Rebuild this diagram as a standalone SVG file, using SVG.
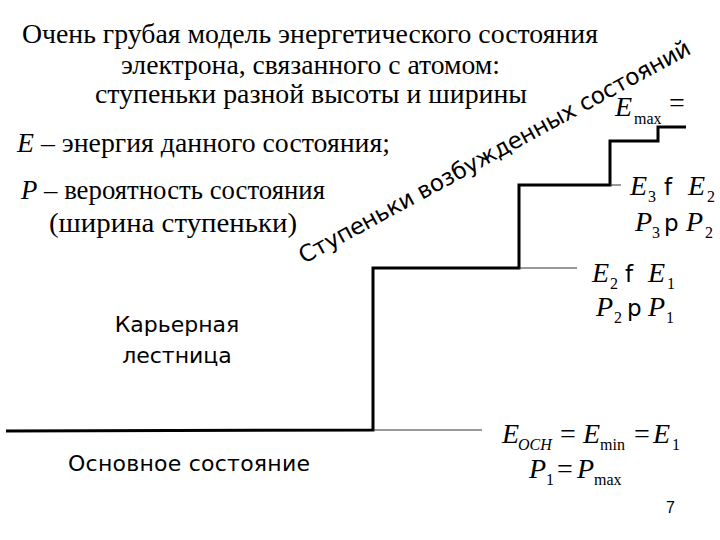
<svg xmlns="http://www.w3.org/2000/svg" width="720" height="540" viewBox="0 0 720 540">
<style>
.serif{font-family:"Liberation Serif","Times New Roman",serif;fill:#000}
.sans{font-family:"DejaVu Sans","Liberation Sans",sans-serif;fill:#000}
.it{font-style:italic}
.thick{stroke:#000;stroke-width:3;fill:none;stroke-linejoin:miter}
.thin{stroke:#333;stroke-width:1;fill:none}
.t27{font-size:27px}
.m{font-size:28px}
.s{font-size:16px}
.op{font-size:23px}
</style>
<rect width="720" height="540" fill="#fff"/>
<g id="title" class="serif t27">
<text x="22" y="43" textLength="576" lengthAdjust="spacingAndGlyphs">Очень грубая модель энергетического состояния</text>
<text x="121" y="74" textLength="379" lengthAdjust="spacingAndGlyphs">электрона, связанного с атомом:</text>
<text x="95" y="103" textLength="432" lengthAdjust="spacingAndGlyphs">ступеньки разной высоты и ширины</text>
</g>
<g id="legend" class="serif t27">
<text x="17" y="152" textLength="373" lengthAdjust="spacingAndGlyphs"><tspan class="it">E</tspan> – энергия данного состояния;</text>
<text x="21" y="199" textLength="304" lengthAdjust="spacingAndGlyphs"><tspan class="it">P</tspan> – вероятность состояния</text>
<text x="49" y="232" textLength="248" lengthAdjust="spacingAndGlyphs">(ширина ступеньки)</text>
</g>
<g id="connectors">
<polyline class="thick" points="6,431 373,430 373,268 519,268 519,185 610,185 610,141 658,141 658,127 686,127"/>
<line class="thin" x1="373" y1="430" x2="482" y2="430"/>
<line class="thin" x1="519" y1="268" x2="577" y2="268"/>
<line class="thin" x1="610" y1="185" x2="621" y2="185"/>
</g>
<g id="career" class="sans" font-size="22" text-anchor="middle">
<text x="177" y="332">Карьерная</text>
<text x="177" y="363">лестница</text>
</g>
<g id="ground" class="sans" font-size="22">
<text x="68" y="471" textLength="242">Основное состояние</text>
</g>
<g id="excited" class="sans">
<text x="304" y="264" font-size="23" transform="rotate(-28.5 304 264)" textLength="442">Ступеньки возбужденных состояний</text>
</g>
<g id="emax" class="serif">
<text x="615" y="116" class="m it">E</text>
<text x="634" y="124" class="s">max</text>
<text x="669" y="112" class="m">=</text>
</g>
<g id="level3">
<text x="630" y="195" class="serif m it">E</text>
<text x="648" y="202" class="serif s">3</text>
<text x="664" y="195" class="sans op">f</text>
<text x="688" y="195" class="serif m it">E</text>
<text x="707" y="202" class="serif s">2</text>
<text x="635" y="231" class="serif m it">P</text>
<text x="652" y="238" class="serif s">3</text>
<text x="664" y="231" class="sans op">p</text>
<text x="686" y="231" class="serif m it">P</text>
<text x="705" y="238" class="serif s">2</text>
</g>
<g id="level2">
<text x="592" y="282" class="serif m it">E</text>
<text x="610" y="289" class="serif s">2</text>
<text x="625" y="282" class="sans op">f</text>
<text x="648" y="282" class="serif m it">E</text>
<text x="667" y="289" class="serif s">1</text>
<text x="596" y="316" class="serif m it">P</text>
<text x="614" y="323" class="serif s">2</text>
<text x="627" y="316" class="sans op">p</text>
<text x="648" y="316" class="serif m it">P</text>
<text x="666" y="323" class="serif s">1</text>
</g>
<g id="level1" class="serif">
<text x="502" y="443" class="m it">E</text>
<text x="518" y="450" class="s it">OCH</text>
<text x="560" y="443" class="m">=</text>
<text x="583" y="443" class="m it">E</text>
<text x="600" y="450" class="s">min</text>
<text x="634" y="443" class="m">=</text>
<text x="653" y="443" class="m it">E</text>
<text x="672" y="450" class="s">1</text>
<text x="529" y="478" class="m it">P</text>
<text x="546" y="485" class="s">1</text>
<text x="557" y="478" class="m">=</text>
<text x="577" y="478" class="m it">P</text>
<text x="594" y="485" class="s">max</text>
</g>
<g id="page">
<text x="666" y="513" font-family="Liberation Sans, Arial, sans-serif" font-size="16">7</text>
</g>
</svg>
